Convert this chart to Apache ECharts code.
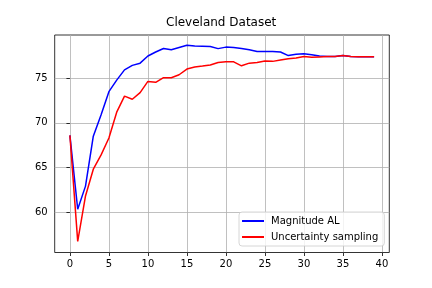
<!DOCTYPE html>
<html>
<head>
<meta charset="utf-8">
<script src="https://cdn.jsdelivr.net/npm/echarts@6/dist/echarts.min.js"></script>
<style>
html,body{margin:0;padding:0;background:#fff;}
#chart{width:432px;height:288px;}
</style>
</head>
<body>
<div id="chart"></div>
<script>
const iterations = [0,1,2,3,4,5,6,7,8,9,10,11,12,13,14,15,16,17,18,19,20,21,22,23,24,25,26,27,28,29,30,31,32,33,34,35,36,37,38,39];
const magnitudeAL = [68.6,60.3,62.9,68.5,70.9,73.5,74.8,75.95,76.45,76.7,77.5,77.95,78.35,78.2,78.45,78.7,78.62,78.6,78.56,78.33,78.5,78.45,78.35,78.2,78.0,78.0,78.0,77.95,77.55,77.7,77.75,77.65,77.5,77.45,77.45,77.55,77.45,77.43,77.43,77.43];
const uncertaintySampling = [68.6,56.7,61.8,64.8,66.4,68.3,71.2,73.0,72.65,73.4,74.65,74.55,75.07,75.07,75.4,76.04,76.26,76.37,76.5,76.78,76.85,76.85,76.4,76.7,76.78,76.93,76.9,77.05,77.2,77.27,77.45,77.35,77.4,77.45,77.45,77.55,77.45,77.43,77.43,77.43];
const xTicks = [0,5,10,15,20,25,30,35,40];
const yTicks = [60,65,70,75];

const font = 'DejaVu Sans';
const chart = echarts.init(document.getElementById('chart'), null, {renderer:'canvas'});
const pairs = arr => iterations.map((x,i)=>[x,arr[i]]);
chart.setOption({
  animation:false,
  backgroundColor:'#fff',
  title:{text:'Cleveland Dataset',left:166,top:17,padding:0,
    textStyle:{fontFamily:font,fontSize:12,fontWeight:'normal',color:'#000'}},
  grid:{left:54.7,right:42.7,top:35,bottom:35.5,show:true,borderColor:'#000',borderWidth:0.8,backgroundColor:'transparent'},
  legend:{
    orient:'vertical',right:47.7,bottom:42,
    backgroundColor:'rgba(255,255,255,0.8)',borderColor:'#cccccc',borderWidth:0.8,borderRadius:3,
    padding:[3,6,3,3],itemGap:4,itemWidth:22,itemHeight:2,icon:'rect',
    textStyle:{fontFamily:font,fontSize:10,color:'#000',padding:[0,0,0,2],lineHeight:12},
    data:['Magnitude AL','Uncertainty sampling']
  },
  xAxis:{type:'value',min:-1.95,max:40.95,
    axisLine:{show:false},
    axisTick:{show:true,length:3.5,inside:false,lineStyle:{color:'#000',width:0.8},customValues:xTicks},
    axisLabel:{margin:7,fontFamily:font,fontSize:10,color:'#000',customValues:xTicks},
    splitLine:{show:true,lineStyle:{color:'#b0b0b0',width:0.8}}},
  yAxis:{type:'value',min:55.45,max:79.86,
    axisLine:{show:false},
    axisTick:{show:true,length:3.5,inside:false,lineStyle:{color:'#000',width:0.8},customValues:yTicks},
    axisLabel:{margin:7,fontFamily:font,fontSize:10,color:'#000',customValues:yTicks},
    splitLine:{show:true,lineStyle:{color:'#b0b0b0',width:0.8}}},
  series:[
    {name:'Magnitude AL',type:'line',data:pairs(magnitudeAL),showSymbol:false,symbol:'none',
      lineStyle:{color:'#0000ff',width:1.5},itemStyle:{color:'#0000ff'}},
    {name:'Uncertainty sampling',type:'line',data:pairs(uncertaintySampling),showSymbol:false,symbol:'none',
      lineStyle:{color:'#ff0000',width:1.5},itemStyle:{color:'#ff0000'}}
  ]
});
</script>
</body>
</html>
